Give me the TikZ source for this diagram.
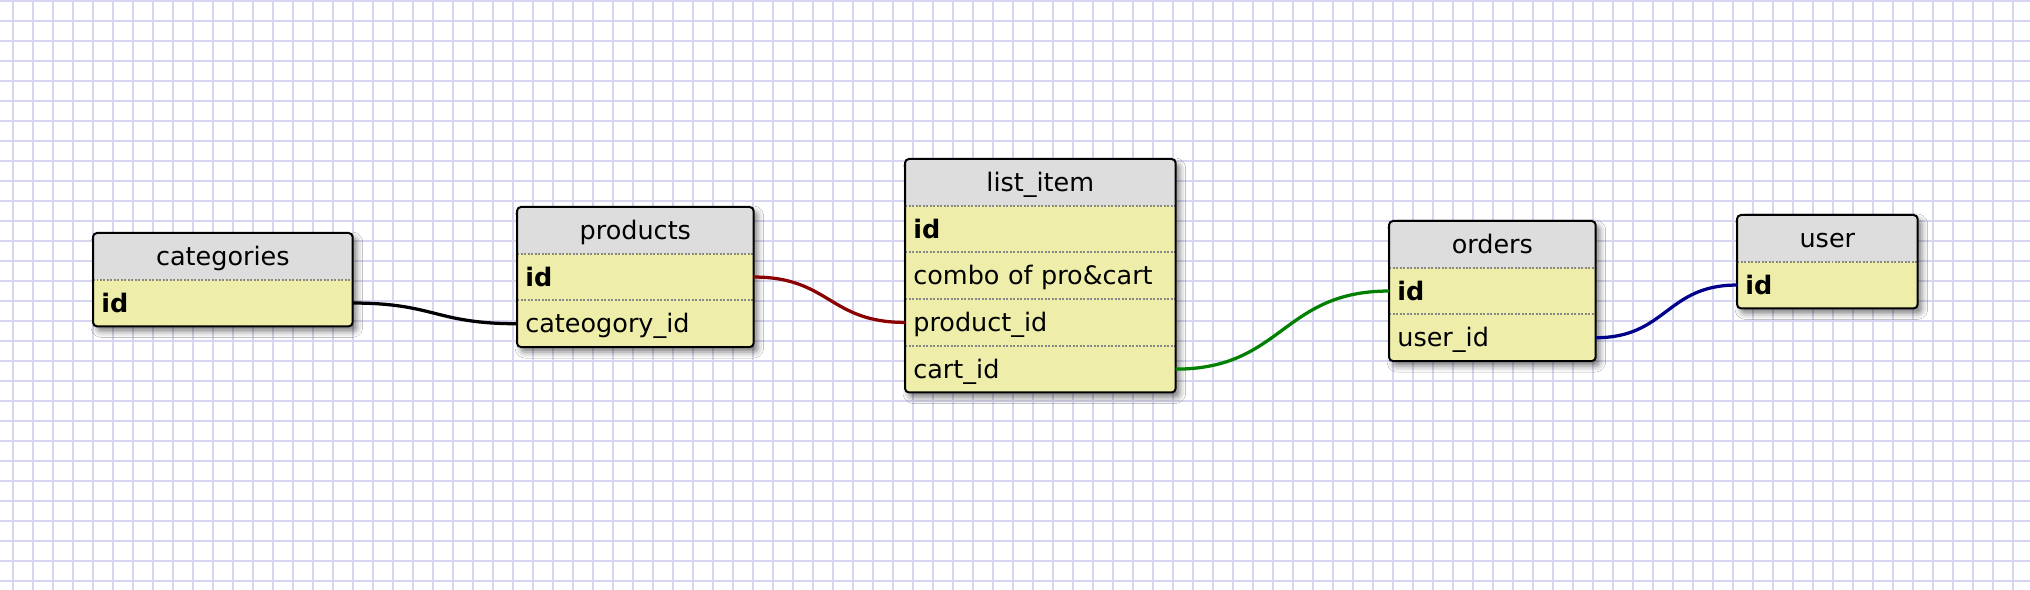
\documentclass[tikz,border=0pt]{standalone}
\usepackage{fontspec}
\setmainfont{DejaVu Sans}
\usetikzlibrary{positioning,backgrounds,shadows.blur}

\definecolor{gridblue}{RGB}{214,214,240}
\definecolor{headgray}{RGB}{221,221,221}
\definecolor{rowyellow}{RGB}{238,238,170}
\definecolor{sepgray}{RGB}{136,136,136}
\definecolor{linkred}{RGB}{139,0,0}
\definecolor{linkgreen}{RGB}{0,128,0}
\definecolor{linkblue}{RGB}{0,0,139}

\tikzset{
  gridline/.style={gridblue, line width=0.032cm},
  tblhead/.style={inner xsep=0.16cm, inner ysep=0pt, minimum height=0.92cm, text width=#1,
    align=center, text height=0.36cm, text depth=0pt, anchor=north west},
  tblrow/.style={inner xsep=0.16cm, inner ysep=0pt, minimum height=0.92cm, text width=#1,
    align=left, text height=0.36cm, text depth=0pt},
  tblbody/.style={fill=rowyellow, rounded corners=0.08cm,
    blur shadow={shadow xshift=0.08cm, shadow yshift=-0.1cm, shadow blur radius=0.12cm, shadow opacity=50}},
  tblsep/.style={sepgray, line width=0.04cm, dash pattern=on 0.04cm off 0.03cm},
  tblborder/.style={black, line width=0.04cm, rounded corners=0.08cm},
  fklink/.style={line width=0.065cm}
}

\begin{document}
\begin{tikzpicture}[x=0.02cm, y=-0.02cm, font=\fontsize{14.5}{17}\selectfont]
    \useasboundingbox (0,0) rectangle (2030,590);

    % tables
    \node[tblhead=4.86cm] (cat-h) at (93,233) {categories};
    \node[tblrow=4.86cm, below=0pt of cat-h] (cat-id) {\textbf{id}};

    \node[tblhead=4.40cm] (prod-h) at (517,207) {products};
    \node[tblrow=4.40cm, below=0pt of prod-h] (prod-id) {\textbf{id}};
    \node[tblrow=4.40cm, below=0pt of prod-id] (prod-cat) {cateogory\_id};

    \node[tblhead=5.08cm] (li-h) at (905,159) {list\_item};
    \node[tblrow=5.08cm, below=0pt of li-h] (li-id) {\textbf{id}};
    \node[tblrow=5.08cm, below=0pt of li-id] (li-combo) {combo of pro\&cart};
    \node[tblrow=5.08cm, below=0pt of li-combo] (li-prod) {product\_id};
    \node[tblrow=5.08cm, below=0pt of li-prod] (li-cart) {cart\_id};

    \node[tblhead=3.80cm] (ord-h) at (1389,221) {orders};
    \node[tblrow=3.80cm, below=0pt of ord-h] (ord-id) {\textbf{id}};
    \node[tblrow=3.80cm, below=0pt of ord-id] (ord-user) {user\_id};

    \node[tblhead=3.28cm] (usr-h) at (1737,215) {user};
    \node[tblrow=3.28cm, below=0pt of usr-h] (usr-id) {\textbf{id}};

    % paper, grid and table fills
    \begin{scope}[on background layer]
        \fill[white] (0,0) rectangle (2030,590);
        \foreach \gx in {13,33,...,2013} \draw[gridline] (\gx,0) -- (\gx,590);
        \foreach \gy in {1,21,...,581} \draw[gridline] (0,\gy) -- (2030,\gy);
        \fill[tblbody] (cat-h.north west) rectangle (cat-id.south east);
        \fill[tblbody] (prod-h.north west) rectangle (prod-cat.south east);
        \fill[tblbody] (li-h.north west) rectangle (li-cart.south east);
        \fill[tblbody] (ord-h.north west) rectangle (ord-user.south east);
        \fill[tblbody] (usr-h.north west) rectangle (usr-id.south east);
        \foreach \t in {cat-h,prod-h,li-h,ord-h,usr-h}
            \fill[headgray, rounded corners=0.08cm] (\t.south west) |- (\t.north east) -- (\t.south east);
    \end{scope}

    \foreach \r in {cat-h,prod-h,prod-id,li-h,li-id,li-combo,li-prod,ord-h,ord-id,usr-h}
        \draw[tblsep] (\r.south west) -- (\r.south east);

    \draw[tblborder] (cat-h.north west) rectangle (cat-id.south east);
    \draw[tblborder] (prod-h.north west) rectangle (prod-cat.south east);
    \draw[tblborder] (li-h.north west) rectangle (li-cart.south east);
    \draw[tblborder] (ord-h.north west) rectangle (ord-user.south east);
    \draw[tblborder] (usr-h.north west) rectangle (usr-id.south east);

    % links
    \draw[fklink, black] (cat-id.east) .. controls +(82,0) and +(-82,0) .. (prod-cat.west);
    \draw[fklink, linkred] (prod-id.east) .. controls +(76,0) and +(-76,0) .. (li-prod.west);
    \draw[fklink, linkgreen] (li-cart.east) .. controls +(107,0) and +(-107,0) .. (ord-id.west);
    \draw[fklink, linkblue] (ord-user.east) .. controls +(71,0) and +(-71,0) .. (usr-id.west);
\end{tikzpicture}
\end{document}
